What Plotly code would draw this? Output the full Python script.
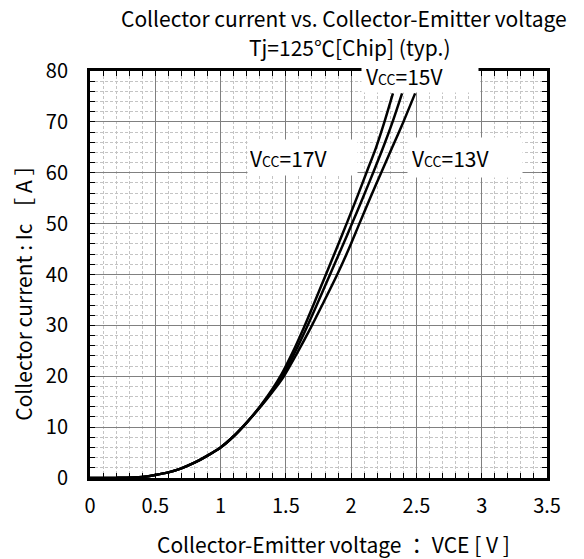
import plotly.graph_objects as go

# ── Data ──────────────────────────────────────────────────
VCE_LOW = [0, 0.2, 0.4, 0.5, 0.6, 0.7, 0.8, 0.9, 1.0, 1.1, 1.2]
IC_LOW  = [0, 0.02, 0.2, 0.6, 1.1, 1.9, 3.0, 4.4, 6.0, 8.2, 10.9]

vce_17 = [1.3, 1.4, 1.465, 1.55, 1.64, 1.725, 1.81, 1.89, 1.97, 2.05, 2.12, 2.19, 2.255, 2.32]
ic_17  = [14.0, 17.6, 20.3, 24.6, 29.7, 34.9, 40.2, 45.2, 50.3, 55.5, 60.2, 64.9, 70.0, 75.6]

vce_15 = [1.3, 1.4, 1.47, 1.565, 1.66, 1.75, 1.84, 1.925, 2.01, 2.09, 2.17, 2.25, 2.32, 2.39]
ic_15  = [13.9, 17.3, 19.9, 24.5, 29.6, 34.8, 40.1, 45.1, 50.2, 55.1, 60.1, 65.3, 70.2, 75.6]

vce_13 = [1.3, 1.4, 1.48, 1.585, 1.69, 1.79, 1.89, 1.975, 2.06, 2.145, 2.23, 2.315, 2.40, 2.49]
ic_13  = [13.8, 17.0, 19.8, 24.5, 29.5, 34.6, 39.8, 44.6, 49.8, 55.0, 60.0, 65.0, 70.0, 75.6]

SERIES = [("Vcc=17V", vce_17, ic_17), ("Vcc=15V", vce_15, ic_15), ("Vcc=13V", vce_13, ic_13)]

# ── Style ─────────────────────────────────────────────────
FONT       = "Noto Sans CJK JP"
MAJOR_GRID = "#808080"
MINOR_GRID = "#c4c4c4"

fig = go.Figure()

for name, vce, ic in SERIES:
    fig.add_trace(go.Scatter(
        x    = VCE_LOW + vce,
        y    = IC_LOW + ic,
        mode = "lines",
        name = name,
        line = dict(color="black", width=2.5, shape="spline", smoothing=0.8),
    ))

axis_common = dict(
    showline   = True,
    linecolor  = "black",
    linewidth  = 3,
    mirror     = "ticks",
    ticks      = "inside",
    ticklen    = 5,
    tickcolor  = "black",
    showgrid   = True,
    gridcolor  = MAJOR_GRID,
    gridwidth  = 1,
    zeroline   = False,
    tickfont   = dict(family=FONT, size=20, color="black"),
)
minor_common = dict(ticks="inside", ticklen=5, tickcolor="black", showgrid=True,
                    gridcolor=MINOR_GRID, griddash="3px,2px", gridwidth=1)

fig.update_xaxes(
    **axis_common,
    range = [0, 3.5],
    tick0 = 0,
    dtick = 0.5,
    ticklabelstandoff = 8,
    minor = dict(dtick=0.1, **minor_common),
)
fig.update_yaxes(
    **axis_common,
    range = [0, 80],
    tick0 = 0,
    dtick = 10,
    ticklabelstandoff = 15,
    minor = dict(dtick=2, **minor_common),
)

def font(size):
    return dict(family=FONT, size=size, color="black")

cc = "<span style='font-size:14px'>CC</span>"
centered = dict(showarrow=False, xanchor="center", yanchor="middle")
boxed = dict(bgcolor="white", align="left", font=font(21), **centered)

annotations = [
    # curve labels (white boxes)
    dict(text=f"V{cc}=15V", x=2.527, y=79.0, width=108, height=24, borderpad=4, **boxed),
    dict(text=f"V{cc}=17V", x=1.627, y=63.0, width=105, height=31, borderpad=2, **boxed),
    dict(text=f"V{cc}=13V", x=2.871, y=63.0, width=106, height=31, borderpad=4, **boxed),
    # titles
    dict(text="Collector current vs. Collector-Emitter voltage", x=0.555, y=1.130,
         xref="paper", yref="paper", font=font(21), **centered),
    dict(text="Tj=125℃[Chip] (typ.)", x=0.569, y=1.059,
         xref="paper", yref="paper", font=font(21), **centered),
    dict(text="Collector-Emitter voltage ： VCE [ V ]", x=0.532, y=-0.161,
         xref="paper", yref="paper", font=font(21), **centered),
    dict(text="Collector current : Ic ［ A ］", x=-0.147, y=0.467, textangle=-90,
         xref="paper", yref="paper", font=font(21), **centered),
]

fig.update_layout(
    width  = 584,
    height = 559,
    margin = dict(l=90, r=37, t=71, b=81),
    paper_bgcolor = "white",
    plot_bgcolor  = "white",
    showlegend    = False,
    font          = dict(family=FONT, color="black"),
    annotations   = annotations,
)

# drop the default 8px page margin so the figure fills the window exactly
fig.write_html(
    "out.html",
    config      = {"displayModeBar": False},
    post_script = "document.body.style.margin = '0';",
)
